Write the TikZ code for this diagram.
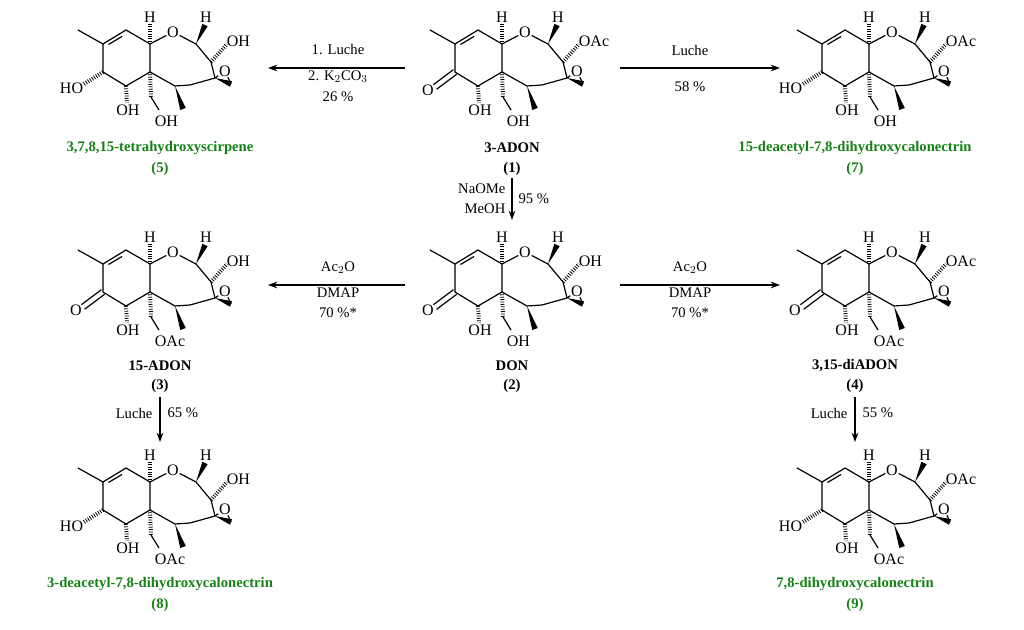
\documentclass[tikz,border=0pt]{standalone}
\usepackage{fontspec}
\setmainfont{Liberation Serif}
\usetikzlibrary{calc,arrows.meta}
\definecolor{dgreen}{RGB}{20,130,20}
\tikzset{
  bond/.style={line width=0.9pt},
  hash/.style={line width=3pt, dash pattern=on 0.6pt off 1.2pt},
  atom/.style={inner sep=0.5pt, font=\fontsize{12}{12}\selectfont},
  lbl/.style={font=\fontsize{11}{13}\selectfont, inner sep=1pt},
  mname/.style={font=\fontsize{11}{13}\selectfont\bfseries, inner sep=1pt},
  gname/.style={mname, text=dgreen},
  rxn/.style={line width=0.8pt, -{Stealth[length=7pt,width=5pt]}}
}
\newcommand\wedgeb[2]{\fill (#1) -- ($(#2)!2.2pt!90:(#1)$) -- ($(#2)!2.2pt!-90:(#1)$) -- cycle;}
% #1 x, #2 y, #3 C3 text, #4 C15 text, #5 1=ketone 0=HO
\newcommand\molecule[5]{%
\begin{scope}[shift={(#1,#2)}]
\coordinate (A1) at (0,0); \coordinate (A2) at (25,14); \coordinate (A3) at (48,0);
\coordinate (A4) at (72,14); \coordinate (A6) at (118,14); \coordinate (A7) at (133,32);
\coordinate (A8) at (137,48); \coordinate (A9) at (97,56); \coordinate (A10) at (72,42);
\coordinate (A11) at (48,56); \coordinate (A12) at (25,42); \coordinate (C4) at (112,55);
\coordinate (CH) at (153,54); \coordinate (HB) at (127,-5); \coordinate (MB) at (105,79);
\node[atom] (O5) at (95,2) {O};
\node[atom] (Oe) at (147,41) {O};
\draw[bond] (A1)--(A2)--(A3)--(A4)--(O5)--(A6)--(A7)--(A8);
\draw[bond] (30.5,14.5)--(44,6.5);
\draw[bond] (A4)--(A10)--(A11)--(A12)--(A2);
\draw[bond] (A10)--(A9)--(C4)--(A8)--(Oe)--(CH);
\wedgeb{A8}{CH}
\draw[hash] (A4)--(72,-6);
\node[atom] at (72,-13) {H};
\wedgeb{A6}{HB}
\node[atom] at (128,-13) {H};
\draw[hash] (A7)--(149,14);
\node[atom,anchor=west] at (148,11) {#3};
\wedgeb{A9}{MB}
\draw[hash] (A11)--(49,73);
\node[atom] at (50,80) {OH};
\draw[hash] (A10)--(73,67);
\draw[bond] (73,67)--(81,80);
\node[atom,anchor=west] at (76,91) {#4};
\ifnum#5=1\relax
 \draw[bond] ($(A12)+(1.6,2.3)$)--($(5,57)+(1.6,2.3)$);
 \draw[bond] ($(A12)+(-1.6,-2.3)$)--($(5,57)+(-1.6,-2.3)$);
 \node[atom] at (-2,60) {O};
\else
 \draw[hash] (A12)--(6,54);
 \node[atom,anchor=east] at (6,58) {HO};
\fi
\end{scope}}
\begin{document}
\begin{tikzpicture}[x=0.75pt,y=-0.75pt]
\useasboundingbox (0,0) rectangle (1024,630);
\molecule{430}{30}{OAc}{OH}{1}
\molecule{78}{30}{OH}{OH}{0}
\molecule{797}{30}{OAc}{OH}{0}
\molecule{430}{250}{OH}{OH}{1}
\molecule{78}{250}{OH}{OAc}{1}
\molecule{797}{250}{OAc}{OAc}{1}
\molecule{78}{468}{OH}{OAc}{0}
\molecule{797}{468}{OAc}{OAc}{0}
% names
\node[mname] (n1) at (512,148) {3-ADON}; \node[mname] (m1) at (512,169) {(1)};
\node[gname] (n5) at (160,148) {3,7,8,15-tetrahydroxyscirpene}; \node[gname] (m5) at (160,169) {(5)};
\node[gname] (n7) at (855,148) {15-deacetyl-7,8-dihydroxycalonectrin}; \node[gname] (m7) at (855,169) {(7)};
\node[mname] (n2) at (512,366) {DON}; \node[mname] (m2) at (512,386) {(2)};
\node[mname] (n3) at (160,366) {15-ADON}; \node[mname] (m3) at (160,386) {(3)};
\node[mname] (n4) at (855,366) {3,15-diADON}; \node[mname] (m4) at (855,386) {(4)};
\node[gname] (n8) at (160,584) {3-deacetyl-7,8-dihydroxycalonectrin}; \node[gname] (m8) at (160,605) {(8)};
\node[gname] (n9) at (855,584) {7,8-dihydroxycalonectrin}; \node[gname] (m9) at (855,605) {(9)};
% arrows
\coordinate (a1s) at (405,68); \coordinate (a1e) at (268,68);
\draw[rxn] (a1s)--(a1e);
\node[lbl] at (338,50) {1. Luche}; \node[lbl] at (338,77) {2. K$_2$CO$_3$}; \node[lbl] at (338,97) {26 \%};
\coordinate (a2s) at (620,68); \coordinate (a2e) at (780,68);
\draw[rxn] (a2s)--(a2e);
\node[lbl] at (690,50) {Luche}; \node[lbl] at (690,87) {58 \%};
\coordinate (a3s) at (512,178); \coordinate (a3e) at (512,220);
\draw[rxn] (a3s)--(a3e);
\node[lbl,anchor=east] at (507,189) {NaOMe}; \node[lbl,anchor=east] at (507,209) {MeOH}; \node[lbl,anchor=west] at (517,199) {95 \%};
\coordinate (a4s) at (405,285); \coordinate (a4e) at (268,285);
\draw[rxn] (a4s)--(a4e);
\node[lbl] at (338,268) {Ac$_2$O}; \node[lbl] at (338,293) {DMAP}; \node[lbl] at (338,313) {70 \%*};
\coordinate (a5s) at (620,285); \coordinate (a5e) at (780,285);
\draw[rxn] (a5s)--(a5e);
\node[lbl] at (690,268) {Ac$_2$O}; \node[lbl] at (690,293) {DMAP}; \node[lbl] at (690,313) {70 \%*};
\coordinate (a6s) at (160,397); \coordinate (a6e) at (160,442);
\draw[rxn] (a6s)--(a6e);
\node[lbl,anchor=east] at (154,413) {Luche}; \node[lbl,anchor=west] at (166,413) {65 \%};
\coordinate (a7s) at (855,397); \coordinate (a7e) at (855,442);
\draw[rxn] (a7s)--(a7e);
\node[lbl,anchor=east] at (849,413) {Luche}; \node[lbl,anchor=west] at (861,413) {55 \%};
\end{tikzpicture}
\end{document}
